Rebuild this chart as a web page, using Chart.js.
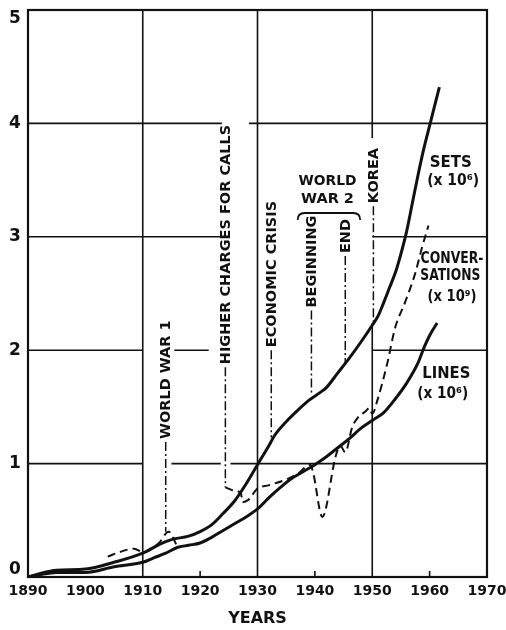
<!DOCTYPE html>
<html>
<head>
<meta charset="utf-8">
<script src="https://cdn.jsdelivr.net/npm/chart.js@4.4.0/dist/chart.umd.min.js"></script>
<style>
  html, body { margin: 0; padding: 0; background: #fff; }
  #wrap { width: 506px; height: 630px; }
</style>
</head>
<body>
<div id="wrap"><canvas id="phoneChart" width="506" height="630"></canvas></div>
<script>
// Telephone growth, values
const setsYears  = [1890, 1892, 1895, 1900, 1905, 1910, 1913, 1915, 1918, 1920, 1922, 1924, 1926, 1928, 1930, 1932, 1933, 1935, 1937, 1939, 1941, 1942, 1944, 1946, 1948, 1950, 1951, 1952, 1953, 1954, 1955, 1956, 1957, 1958, 1959, 1960, 1961, 1961.7];
const setsValues = [0, 0.03, 0.06, 0.07, 0.13, 0.21, 0.29, 0.33, 0.36, 0.40, 0.46, 0.56, 0.67, 0.82, 0.99, 1.16, 1.25, 1.37, 1.47, 1.56, 1.63, 1.67, 1.80, 1.93, 2.07, 2.22, 2.30, 2.42, 2.55, 2.68, 2.85, 3.05, 3.30, 3.55, 3.78, 3.98, 4.18, 4.32];

const linesYears  = [1890, 1892, 1895, 1900, 1905, 1910, 1912, 1914, 1916, 1918, 1920, 1922, 1924, 1926, 1928, 1930, 1932, 1934, 1936, 1938, 1940, 1942, 1944, 1946, 1948, 1950, 1952, 1954, 1956, 1958, 1959, 1960, 1961.3];
const linesValues = [0, 0.02, 0.04, 0.04, 0.09, 0.13, 0.17, 0.21, 0.26, 0.28, 0.30, 0.35, 0.41, 0.47, 0.53, 0.60, 0.70, 0.79, 0.87, 0.93, 0.99, 1.06, 1.14, 1.22, 1.31, 1.38, 1.45, 1.57, 1.71, 1.89, 2.02, 2.13, 2.24];

// conversations: no line drawn between 1916 and 1924
const convYears  = [1903.9, 1906, 1908.5, 1910, 1912.8, 1914.5, 1916, 1916.1, 1924.4, 1926, 1927.1, 1927.4, 1928.4, 1930, 1932, 1935, 1937, 1939.2, 1939.7, 1941.3, 1943.6, 1944.4, 1945.3, 1946.5, 1947.4, 1948.8, 1949.5, 1950, 1950.9, 1952.6, 1954, 1955.7, 1957.5, 1958.7, 1959.8];
const convValues = [0.18, 0.22, 0.25, 0.22, 0.30, 0.40, 0.27, null, 0.79, 0.76, 0.74, 0.66, 0.68, 0.78, 0.81, 0.86, 0.91, 0.99, 0.92, 0.53, 1.06, 1.16, 1.10, 1.32, 1.40, 1.46, 1.49, 1.44, 1.56, 1.88, 2.20, 2.42, 2.68, 2.91, 3.10];

const yearTicks  = [1890, 1900, 1910, 1920, 1930, 1940, 1950, 1960, 1970];
const valueTicks = [0, 1, 2, 3, 4, 5];

// events marked with dash-dot lines
const eventYears  = [1914, 1924.4, 1932.4, 1939.4, 1945.3, 1950.2];
const eventLabels = ['WORLD WAR 1', 'HIGHER CHARGES FOR CALLS', 'ECONOMIC CRISIS', 'BEGINNING', 'END', 'KOREA'];

const INK = '#111';
const FONT = '"DejaVu Sans", sans-serif';

// where each marker line runs (value units)
const eventLineTop    = [1.19, 1.85, 2.00, 2.35, 2.83, 3.27];
const eventLineBottom = [0.40, 0.79, 1.23, 1.60, 1.88, 2.24];

// the grid is broken round the labels
const gridRows = [
  { value: 1, spans: [[1890, 1910], [1915, 1923.6], [1925.3, 1970]] },
  { value: 2, spans: [[1890, 1910], [1915.5, 1921.5], [1950, 1970]] },
  { value: 3, spans: [[1890, 1923.8], [1950, 1970]] },
  { value: 4, spans: [[1890, 1923.8], [1928.5, 1970]] }
];
const gridCols = [
  { year: 1910, spans: [[0, 5]] },
  { year: 1930, spans: [[0, 5]] },
  { year: 1950, spans: [[0, 2.24], [3.87, 5]] }
];

const seriesNotes = [
  { year: 1963.7, value: 3.65, text: 'SETS', max: 44 },
  { year: 1964.1, value: 3.49, text: '(x 10⁶)', max: 52 },
  { year: 1963.9, value: 2.80, text: 'CONVER-', max: 63 },
  { year: 1963.6, value: 2.65, text: 'SATIONS', max: 60 },
  { year: 1963.9, value: 2.47, text: '(x 10⁹)', max: 49 },
  { year: 1962.9, value: 1.79, text: 'LINES', max: 48 },
  { year: 1962.3, value: 1.61, text: '(x 10⁶)', max: 51 }
];

const toPoints = (xs, ys) => xs.map((v, i) => ({ x: v, y: ys[i] }));

const chartDecor = {
  id: 'chartDecor',
  beforeDatasetsDraw(chart) {
    const { ctx, scales: { x, y } } = chart;
    ctx.save();
    ctx.strokeStyle = INK;
    ctx.fillStyle = INK;

    // grid pieces
    ctx.lineWidth = 1.6;
    gridRows.forEach(row => row.spans.forEach(([a, b]) => {
      const py = y.getPixelForValue(row.value);
      ctx.beginPath();
      ctx.moveTo(x.getPixelForValue(a), py);
      ctx.lineTo(x.getPixelForValue(b), py);
      ctx.stroke();
    }));
    gridCols.forEach(col => col.spans.forEach(([a, b]) => {
      const px = x.getPixelForValue(col.year);
      ctx.beginPath();
      ctx.moveTo(px, y.getPixelForValue(a));
      ctx.lineTo(px, y.getPixelForValue(b));
      ctx.stroke();
    }));

    // small inward ticks on the year axis
    [1920, 1940, 1960].forEach(yr => {
      const px = x.getPixelForValue(yr);
      ctx.beginPath();
      ctx.moveTo(px, y.bottom);
      ctx.lineTo(px, y.bottom - 6);
      ctx.stroke();
    });

    // event markers
    ctx.font = 'bold 14.5px ' + FONT;
    eventYears.forEach((yr, i) => {
      const px = x.getPixelForValue(yr);
      const top = y.getPixelForValue(eventLineTop[i]);
      const bottom = y.getPixelForValue(eventLineBottom[i]);
      ctx.lineWidth = 1.5;
      ctx.setLineDash([9, 3, 2, 3]);
      ctx.beginPath();
      ctx.moveTo(px, top);
      ctx.lineTo(px, bottom);
      ctx.stroke();
      ctx.setLineDash([]);
      ctx.save();
      ctx.translate(px + 1, top - 3);
      ctx.rotate(-Math.PI / 2);
      ctx.textAlign = 'left';
      ctx.textBaseline = 'middle';
      ctx.fillText(eventLabels[i], 0, 0);
      ctx.restore();
    });

    // world war 2 heading and brace
    ctx.textAlign = 'center';
    ctx.textBaseline = 'middle';
    ctx.font = 'bold 14.5px ' + FONT;
    ctx.fillText('WORLD', x.getPixelForValue(1942.2), y.getPixelForValue(3.49), 58);
    ctx.fillText('WAR 2', x.getPixelForValue(1942.2), y.getPixelForValue(3.33), 56);
    const bx1 = x.getPixelForValue(1937), bx2 = x.getPixelForValue(1947.9);
    const by = y.getPixelForValue(3.21);
    ctx.lineWidth = 1.8;
    ctx.beginPath();
    ctx.moveTo(bx1, by + 7);
    ctx.quadraticCurveTo(bx1, by, bx1 + 7, by);
    ctx.lineTo(bx2 - 7, by);
    ctx.quadraticCurveTo(bx2, by, bx2, by + 7);
    ctx.stroke();

    // series names
    ctx.font = 'bold 15px ' + FONT;
    seriesNotes.forEach(n => {
      ctx.fillText(n.text, x.getPixelForValue(n.year), y.getPixelForValue(n.value), n.max);
    });
    ctx.restore();
  },
  afterDraw(chart) {
    const { ctx, chartArea: a, scales: { y } } = chart;
    ctx.save();
    ctx.strokeStyle = INK;
    ctx.lineWidth = 2.2;
    ctx.strokeRect(a.left, a.top, a.right - a.left, a.bottom - a.top);

    // value labels, the end ones pulled inside the frame as printed
    ctx.fillStyle = INK;
    ctx.font = 'bold 17px ' + FONT;
    ctx.textAlign = 'center';
    ctx.textBaseline = 'middle';
    valueTicks.forEach(v => {
      let py = y.getPixelForValue(v);
      if (v === 5) py += 9;
      if (v === 0) py -= 7;
      ctx.fillText(String(v), 15, py);
    });
    ctx.restore();
  }
};

const ctx = document.getElementById('phoneChart').getContext('2d');
const phoneChart = new Chart(ctx, {
  type: 'line',
  data: {
    datasets: [
      {
        label: 'Sets',
        data: toPoints(setsYears, setsValues),
        borderColor: INK,
        borderWidth: 3,
        pointRadius: 0,
        cubicInterpolationMode: 'monotone'
      },
      {
        label: 'Lines',
        data: toPoints(linesYears, linesValues),
        borderColor: INK,
        borderWidth: 3,
        pointRadius: 0,
        cubicInterpolationMode: 'monotone'
      },
      {
        label: 'Conversations',
        data: toPoints(convYears, convValues),
        borderColor: INK,
        borderWidth: 2,
        borderDash: [8, 5],
        pointRadius: 0,
        spanGaps: false,
        cubicInterpolationMode: 'monotone'
      }
    ]
  },
  options: {
    responsive: false,
    animation: false,
    layout: { padding: { left: 0, right: 19, top: 10, bottom: 0 } },
    plugins: {
      legend: { display: false },
      tooltip: { enabled: false }
    },
    scales: {
      x: {
        type: 'linear',
        min: 1890,
        max: 1970,
        afterBuildTicks: scale => { scale.ticks = yearTicks.map(v => ({ value: v })); },
        afterFit: scale => {
          scale.height = 53;
          scale.paddingLeft = 0;
          scale.paddingRight = 0;
        },
        grid: { display: false, drawTicks: false },
        border: { display: false },
        ticks: {
          color: INK,
          font: { family: FONT, weight: 'bold', size: 14 },
          padding: 6,
          maxRotation: 0,
          autoSkip: false,
          callback: v => String(v)
        },
        title: {
          display: true,
          text: 'YEARS',
          color: INK,
          font: { family: FONT, weight: 'bold', size: 16 },
          padding: { top: 0, bottom: 2 }
        }
      },
      y: {
        type: 'linear',
        min: 0,
        max: 5,
        afterBuildTicks: scale => { scale.ticks = valueTicks.map(v => ({ value: v })); },
        afterFit: scale => {
          scale.width = 28;
          scale.paddingTop = 0;
          scale.paddingBottom = 0;
        },
        grid: { display: false, drawTicks: false },
        border: { display: false },
        ticks: { display: false }
      }
    }
  },
  plugins: [chartDecor]
});
</script>
</body>
</html>
